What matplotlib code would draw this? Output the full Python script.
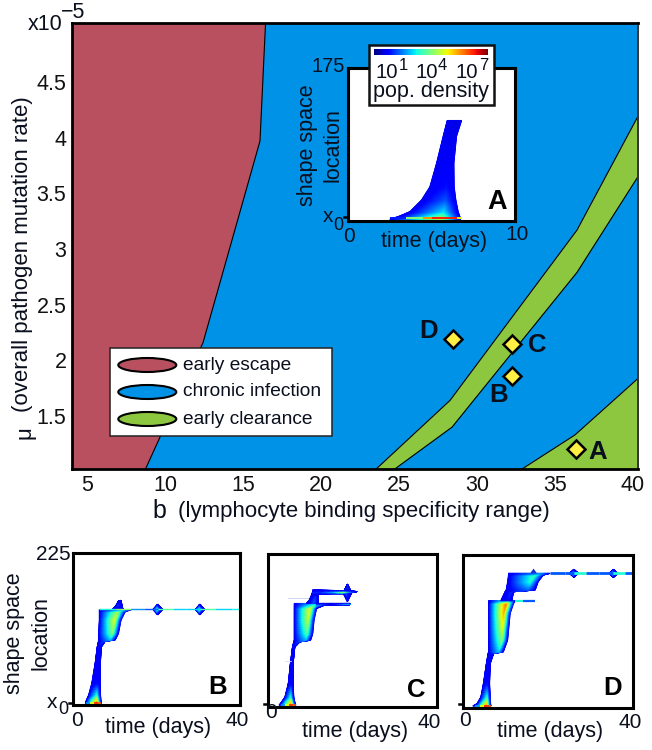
# plot.py - phase diagram with shape space insets
import matplotlib
matplotlib.use("Agg")
import matplotlib.pyplot as plt
import numpy as np
from matplotlib.cm import ScalarMappable
from matplotlib.collections import LineCollection
from matplotlib.colors import Normalize
from matplotlib.patches import Ellipse, Rectangle

plt.rcParams["font.family"] = ["Liberation Sans", "DejaVu Sans"]
plt.rcParams["mathtext.default"] = "regular"

RED = "#B85060"
BLUE = "#0092E6"
GREEN = "#8DC63F"
YELLOW = "#FFEE44"
INK = "#0A0F1E"

# main phase diagram, b against mu (x 1e-5)
escape_b = [4.0, 16.47, 16.09, 12.44, 8.51, 4.0]
escape_mu = [5.1, 5.1, 3.97, 2.16, 0.95, 0.95]
band_upper_b = [23.2, 28.27, 36.41, 40.5]
band_upper_mu = [0.98, 1.64, 3.17, 4.24]
band_lower_b = [24.3, 28.40, 36.41, 40.5]
band_lower_mu = [0.98, 1.40, 2.79, 3.69]
corner_b = [32.4, 36.28, 40.5, 40.5, 32.4]
corner_mu = [0.98, 1.33, 1.86, 0.98, 0.98]
point_names = ["A", "B", "C", "D"]
point_b = [36.35, 32.22, 32.22, 28.48]
point_mu = [1.20, 1.86, 2.15, 2.19]
b_ticks = [5, 10, 15, 20, 25, 30, 35, 40]
mu_ticks = [1.5, 2, 2.5, 3, 3.5, 4, 4.5]
mu_tick_labels = ["1.5", "2", "2.5", "3", "3.5", "4", "4.5"]
legend_names = ["early escape", "chronic infection", "early clearance"]
legend_colors = [RED, BLUE, GREEN]

# panel A, levels along the location axis: y, left t, right t, log10 density
a_y = [2, 5, 10.7, 24, 39, 66, 97, 115]
a_left = [2.5, 3.0, 3.7, 4.4, 4.9, 5.3, 5.7, 5.94]
a_right = [6.75, 6.7, 6.6, 6.46, 6.36, 6.34, 6.5, 6.8]
a_core = [4.5, 4.0, 2.6, 1.5, 0.9, 0.65, 0.55, 0.5]
a_line_t = [2.5, 3.5, 4.5, 5.0, 6.0, 6.5, 6.8]
a_line_d = [1.0, 4.0, 6.0, 7.0, 7.0, 5.0, 2.0]

# panel B
b_y = [2.5, 7.4, 14.8, 32, 61.6, 86, 94.6, 96, 106, 125.6, 138, 141.4]
b_left = [2.95, 3.2, 3.75, 4.5, 5.3, 5.8, 6.1, 6.1, 6.1, 6.3, 6.3, 6.3]
b_right = [6.8, 6.7, 6.6, 6.55, 6.55, 6.8, 7.75, 10.1, 10.9, 11.5, 12.5, 14.1]
b_core = [6.5, 5.6, 3.2, 0.8, 0.6, 0.8, 1.4, 2.2, 3.9, 4.9, 4.3, 2.2]
b_hump_t = [9.56, 10.36, 10.9, 11.47, 11.8, 11.95]
b_hump_hi = [141.4, 147.8, 154.2, 155, 145.3, 141.4]
b_hump_d = [0.8, 1.0, 1.2, 1.0, 0.8, 0.6]
b_line_t = [6.3, 10, 14, 17, 20.3, 24, 27, 30.4, 34, 38, 40]
b_line_d = [3, 4, 2, 1.5, 3.5, 2.5, 2.5, 3.5, 2.5, 2.8, 3]
b_spots = [20.3, 30.4]

# panel C
c_y = [2.5, 7.4, 14.7, 34.4, 63.9, 88.4, 95.8, 98.2, 108, 127.7, 144.9, 152.3]
c_left = [2.6, 3.2, 4.0, 4.8, 5.3, 5.8, 6.1, 6.2, 6.2, 6.2, 6.2, 6.2]
c_right = [6.6, 6.35, 6.1, 5.95, 5.95, 6.35, 7.55, 10.1, 10.6, 10.9, 11.5, 13.25]
c_core = [6.5, 5.6, 3.2, 0.8, 0.6, 0.8, 1.4, 2.2, 3.5, 4.6, 5.0, 2.5]
c_stem_y = [152.3, 157.2, 164.5, 169.5]
c_stem_left = [9.13, 9.76, 10.3, 10.56]
c_stem_right = [11.9, 11.9, 11.9, 11.9]
c_stem_core = [1.5, 1.5, 1.2, 0.9]
c_top_t = [10.56, 12.3, 15.5, 17.86, 19.4, 21]
c_top_lo = [164.5, 166, 166.5, 166.5, 167.9, 169.5]
c_top_hi = [171.9, 171.9, 171.4, 171, 170.5, 169.8]
c_top_d = [1.2, 1.2, 2.5, 5.0, 2.5, 0.8]
c_low_t = [11.5, 13.25, 15, 18, 19.4]
c_low_lo = [145, 149.5, 150, 150, 150.5]
c_low_hi = [152.3, 152.3, 152.3, 152.3, 152.3]
c_low_d = [2.5, 1.5, 0.8, 2.5, 3.0]

# panel D
d_y = [2.9, 6.4, 16.2, 35.9, 65.3, 80, 82.5, 99.7, 119.4, 139, 153.7, 157.7]
d_left = [2.3, 3.3, 4.2, 4.8, 5.5, 5.9, 6, 6, 6, 6, 6, 6]
d_right = [6.6, 6.5, 6.4, 6.25, 6.4, 7.2, 9.5, 10.5, 10.8, 11.1, 11.9, 12.3]
d_core = [6.8, 5.8, 3.2, 0.9, 0.6, 0.9, 2.4, 4.0, 5.0, 5.8, 6.4, 3.0]
d_upper_y = [157.7, 171, 173.4, 185.7, 195.5, 198]
d_upper_left = [8.9, 9.9, 10.15, 10.5, 10.7, 10.7]
d_upper_right = [11.5, 11.9, 17, 17.7, 18.9, 20.5]
d_upper_core = [0.9, 1.2, 1.5, 3.0, 3.3, 2.0]
d_line_t = [20.5, 24, 26.1, 29, 32, 35.4, 38, 40]
d_line_d = [1.5, 1.5, 3, 1.5, 1.5, 3, 1.5, 1.5]
d_spots = [26.1, 35.4]

W, H = 652, 750
norm = Normalize(-0.25, 8)
EDGE = 0.6

fig = plt.figure(figsize=(W / 100, H / 100), dpi=100)


def box_axes(left, top, right, bottom, lw=2.2):
    ax = fig.add_axes([left / W, 1 - bottom / H, (right - left) / W, (bottom - top) / H])
    for s in ax.spines.values():
        s.set_linewidth(lw)
    ax.set_xticks([])
    ax.set_yticks([])
    return ax


def band(ax, along, a, b, core, frac=0.72, vertical=True):
    # mesh between two edge curves, density peaks at frac across the band
    # fine grid only so the shading passes through the colormap, not straight rgb
    idx = np.linspace(0, len(along) - 1, 80)
    pos = np.arange(len(along))
    s = np.interp(idx, pos, along)
    lo = np.interp(idx, pos, a)
    hi = np.interp(idx, pos, b)
    top = np.interp(idx, pos, core)
    f = np.linspace(0, 1, 31)
    tri = np.where(f < frac, f / frac, (1 - f) / (1 - frac))
    cross = lo[:, None] + (hi - lo)[:, None] * f
    length = np.repeat(s[:, None], len(f), axis=1)
    dens = EDGE + (top - EDGE)[:, None] * tri
    if vertical:
        ax.pcolormesh(cross, length, dens, shading="gouraud", cmap="jet", norm=norm)
    else:
        ax.pcolormesh(length, cross, dens, shading="gouraud", cmap="jet", norm=norm)


def line(ax, t, y, dens, lw=1.2):
    t = np.asarray(t, float)
    pts = np.column_stack([t, np.full(len(t), y)])
    segs = np.stack([pts[:-1], pts[1:]], axis=1)
    lc = LineCollection(segs, cmap="jet", norm=norm, linewidth=lw)
    lc.set_array(np.asarray(dens[:-1], float))
    ax.add_collection(lc)


def spot(ax, t, y, half_t, half_y, dens):
    band(ax, [t - half_t, t, t + half_t], [y, y - half_y, y], [y, y + half_y, y],
         [EDGE, dens, EDGE], frac=0.5, vertical=False)


# main axes
ax = box_axes(72, 23, 638, 469, lw=2.0)
ax.set_facecolor(BLUE)
ax.fill(escape_b, escape_mu, facecolor=RED, edgecolor="black", lw=0.8)
ax.fill(band_upper_b + band_lower_b[::-1], band_upper_mu + band_lower_mu[::-1],
        facecolor=GREEN, edgecolor="black", lw=0.8)
ax.fill(corner_b, corner_mu, facecolor=GREEN, edgecolor="black", lw=0.8)
ax.plot(point_b, point_mu, ls="none", marker="D", ms=9.5, mfc=YELLOW, mec="black", mew=1.8)
ax.set_xlim(4.04, 40.32)
ax.set_ylim(1.024, 5.03)
ax.set_xticks(b_ticks)
ax.set_yticks(mu_ticks)
ax.set_yticklabels(mu_tick_labels)
ax.tick_params(length=0, labelsize=15.5, pad=4, colors="#111111")
ax.spines["right"].set_linewidth(1.4)
ax.spines["right"].set_color("#333333")

# panel A
ax_a = box_axes(348, 68, 515, 221)
ax_a.set_xlim(0, 10)
ax_a.set_ylim(0, 175)
band(ax_a, a_y, a_left, a_right, a_core, frac=0.7)
line(ax_a, a_line_t, 3.2, a_line_d, lw=1.4)

# panel B
ax_b = box_axes(73, 553, 240, 705)
ax_b.set_xlim(0, 40)
ax_b.set_ylim(0, 225)
band(ax_b, b_y, b_left, b_right, b_core)
band(ax_b, b_hump_t, [141.4] * 6, b_hump_hi, b_hump_d, frac=0.5, vertical=False)
line(ax_b, b_line_t, 141.4, b_line_d, lw=1.0)
line(ax_b, [3, 4, 5, 6, 6.8], 3, [2, 5, 7, 6.5, 2], lw=1.2)
for t in b_spots:
    spot(ax_b, t, 141.4, 1.1, 8, 3.5)

# panel C
ax_c = box_axes(268, 554, 437, 707)
ax_c.set_xlim(0, 40)
ax_c.set_ylim(0, 225)
ax_c.plot([4.8, 9.5], [161, 161], color="#C4D0F0", lw=0.6)
ax_c.plot([4.0, 5.4], [67.8, 67.8], color="#D4DCF4", lw=0.6)
band(ax_c, c_y, c_left, c_right, c_core)
band(ax_c, c_stem_y, c_stem_left, c_stem_right, c_stem_core, frac=0.6)
spot(ax_c, 18.8, 168, 1.0, 13, 1.5)
ax_c.fill([17.9, 18.8, 19.7], [168, 180.2, 168], color="#0018E0", lw=0)
band(ax_c, c_top_t, c_top_lo, c_top_hi, c_top_d, frac=0.5, vertical=False)
band(ax_c, c_low_t, c_low_lo, c_low_hi, c_low_d, frac=0.5, vertical=False)
line(ax_c, [3, 4, 5, 6, 6.6], 3, [2, 5, 7, 6.5, 2], lw=1.2)

# panel D
ax_d = box_axes(463, 555, 633, 708)
ax_d.set_xlim(0, 40)
ax_d.set_ylim(0, 225)
band(ax_d, d_y, d_left, d_right, d_core)
band(ax_d, d_upper_y, d_upper_left, d_upper_right, d_upper_core, frac=0.75)
line(ax_d, [12.3, 14, 17], 157.7, [3, 1.5, 0.8], lw=1.6)
line(ax_d, d_line_t, 198, d_line_d, lw=2.0)
line(ax_d, [2.8, 4, 5, 6, 6.6], 3, [2, 5, 7, 6.5, 2], lw=1.2)
for t in d_spots:
    spot(ax_d, t, 198, 1.0, 6, 3.0)
ax_d.fill([15.8, 16.6, 17.4], [198, 205, 198], color="#1030D0", lw=0)

# everything hand placed in the figure goes on a pixel overlay
over = fig.add_axes([0, 0, 1, 1], facecolor="none")
over.set_xlim(0, W)
over.set_ylim(H, 0)
over.axis("off")


def label(x, y, s, size=15.5, color=INK, **kw):
    kw.setdefault("ha", "center")
    kw.setdefault("va", "center")
    over.text(x, y, s, fontsize=size, color=color, **kw)


# main labels
label(63, 24, "x10", size=15.5, ha="right")
label(61, 13, "\u22125", size=15.5, ha="left")
label(23, 254.5, "(overall pathogen mutation rate)", size=16, rotation=90)
label(25, 433, "\u03bc", size=16, rotation=90)
label(152, 511, "b", size=18, ha="left")
label(178, 512, "(lymphocyte binding specificity range)", size=16, ha="left")

for name, x, y in [("A", 598, 452), ("B", 499, 395), ("C", 537, 345), ("D", 429, 331)]:
    label(x, y, name, size=18.5, weight="bold")

# legend
over.add_patch(Rectangle((110, 348), 222, 88, fc="white", ec="#222222", lw=1.1))
for name, col, cy in zip(legend_names, legend_colors, [365, 392, 419]):
    over.add_patch(Ellipse((147.3, cy), 58, 14, fc=col, ec="black", lw=1.5))
    label(183, cy, name, size=13.8, ha="left")

# panel A labels
label(345, 67, "175", ha="right", size=14.5)
label(328, 217, "x", size=15)
label(338, 225, "0", size=13)
label(349, 237, "0", size=15)
label(517, 234, "10", size=15)
label(434, 241, "time (days)")
label(307, 145, "shape space", rotation=90)
label(333, 145, "location", rotation=90)
label(497, 202, "A", size=19.5, weight="bold", color="black")
over.plot([344, 348], [217, 217], color="black", lw=1.8)

# colour bar box for panel A
over.add_patch(Rectangle((369, 45), 125, 60, fc="white", ec="#111111", lw=1.8))
for x, sup_x, exp in [(386.7, 403, "1"), (426.7, 442.7, "4"), (466.7, 483.3, "7")]:
    label(x, 72, "10", size=14.7)
    label(sup_x, 65, exp, size=12)
label(431, 91, "pop. density", size=15.5)

# panel B labels
label(71, 555, "225", ha="right", size=15)
label(15, 633, "shape space", rotation=90)
label(41, 633, "location", rotation=90)
label(52, 702, "x", size=15)
label(63, 710, "0", size=13)
label(77, 720, "0", size=15)
label(237, 720, "40", size=15)
label(158, 728, "time (days)")
label(218, 687, "B", size=18.5, weight="bold", color="black")
over.plot([69, 73], [703, 703], color="black", lw=1.8)

# panel C labels
label(271, 713, "0", size=15)
label(429, 722, "40", size=15)
label(355, 732, "time (days)")
label(416, 690, "C", size=18.5, weight="bold", color="black")
over.plot([264, 268], [704, 704], color="black", lw=1.8)

# panel D labels
label(465, 721, "0", size=15)
label(630, 722, "40", size=15)
label(550, 732, "time (days)")
label(613, 688, "D", size=18.5, weight="bold", color="black")
over.plot([459, 463], [704, 704], color="black", lw=1.8)

# colour bar on top of its box
cax = fig.add_axes([374.3 / W, 1 - 55 / H, 113.4 / W, 5.7 / H])
cb = fig.colorbar(ScalarMappable(norm=norm, cmap="jet"), cax=cax, orientation="horizontal")
cb.set_ticks([])
cb.outline.set_visible(False)

fig.savefig("out.png", dpi=100)
plt.close(fig)
